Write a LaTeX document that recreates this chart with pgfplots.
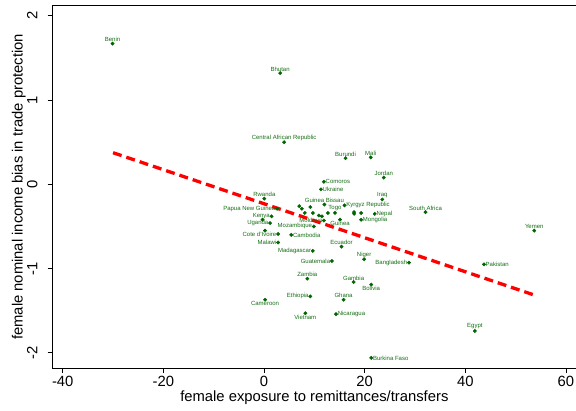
\documentclass[border=0pt]{standalone}
\usepackage{fontspec}
\setmainfont{Liberation Sans}
\usepackage{pgfplots}
\usepackage{pgfplotstable}
\pgfplotsset{compat=1.18}
\definecolor{dkg}{RGB}{0,100,0}
\definecolor{lblg}{RGB}{20,110,20}

% labels above the point
\pgfplotstableread[col sep=comma]{
x,y,label
-30.1,1.67,Benin
3.2,1.32,Bhutan
4.0,0.50,Central African Republic
16.2,0.31,Burundi
21.2,0.32,Mali
23.8,0.08,Jordan
23.5,-0.18,Iraq
0.06,-0.17,Rwanda
15.4,-0.74,Ecuador
19.9,-0.89,Niger
53.7,-0.55,Yemen
32.1,-0.33,South Africa
12.0,-0.24,Guinea Bissau
14.1,-0.34,Togo
8.6,-1.12,Zambia
17.8,-1.16,Gambia
15.8,-1.37,Ghana
41.9,-1.74,Egypt
}\labAbove

% labels left of the point
\pgfplotstableread[col sep=comma]{
x,y,label
2.6,-0.29,Papua New Guinea
1.5,-0.38,Kenya
1.2,-0.46,Uganda
2.8,-0.59,Cote d'Ivoire
2.8,-0.69,Malawi
9.9,-0.50,Mozambique
9.7,-0.79,Madagascar
13.5,-0.91,Guatemala
28.8,-0.93,Bangladesh
11.9,-0.43,Moldova
9.2,-1.33,Ethiopia
}\labLeft

% labels right of the point
\pgfplotstableread[col sep=comma]{
x,y,label
11.9,0.03,Comoros
11.3,-0.06,Ukraine
5.4,-0.60,Cambodia
43.7,-0.95,Pakistan
16.0,-0.25,Kyrgyz Republic
22.0,-0.35,Nepal
19.3,-0.42,Mongolia
14.3,-1.54,Nicaragua
21.3,-2.06,Burkina Faso
}\labRight

% labels below the point
\pgfplotstableread[col sep=comma]{
x,y,label
15.1,-0.42,Guinea
21.3,-1.19,Bolivia
0.2,-1.37,Cameroon
8.2,-1.53,Vietnam
}\labBelow

\pgfplotstableread[col sep=comma]{
x,y
7.0,-0.26
7.5,-0.29
9.2,-0.27
8.1,-0.34
9.7,-0.34
10.9,-0.37
11.5,-0.38
12.7,-0.34
17.9,-0.33
17.9,-0.35
19.3,-0.34
-0.3,-0.42
0.2,-0.55
}\unlabeled

\pgfplotstableread{
x y
-30 0.375
53.5 -1.31
}\fitline

\pgfplotsset{
  lblpts/.style={only marks, mark=*, mark size=1.7pt, color=dkg,
    point meta=explicit symbolic, nodes near coords,
    every node near coord/.append style={anchor=#1, font=\fontsize{6}{7}\selectfont, text=lblg, inner sep=1.6pt}},
}

\begin{document}
\begin{tikzpicture}
\begin{axis}[
  scale only axis,
  width=523.3pt, height=362.3pt,
  xmin=-42, xmax=62, ymin=-2.18, ymax=2.12,
  xtick={-40,-20,0,20,40,60},
  ytick={-2,-1,0,1,2},
  tick pos=left,
  tick align=outside,
  major tick length=5pt,
  axis line style={line width=0.8pt},
  every tick/.style={black, line width=0.8pt},
  /pgf/number format/assume math mode=true,
  ticklabel style={font=\fontsize{14.8}{16}\selectfont},
  xticklabel style={anchor=north, inner sep=0pt},
  xticklabel shift=3pt,
  yticklabel style={rotate=90, anchor=south, inner sep=0pt},
  yticklabel shift=10pt,
  label style={font=\fontsize{14.8}{16}\selectfont},
  xlabel={female exposure to remittances/transfers},
  ylabel={female nominal income bias in trade protection},
  xlabel style={at={([yshift=-30pt]axis description cs:0.5,0)}, anchor=center, inner sep=0pt},
  ylabel style={at={([xshift=-34pt]axis description cs:0,0.5)}, anchor=center, inner sep=0pt},
  clip=false,
]
\addplot[lblpts=south] table[x=x, y=y, meta=label] {\labAbove};
\addplot[lblpts=east] table[x=x, y=y, meta=label] {\labLeft};
\addplot[lblpts=west] table[x=x, y=y, meta=label] {\labRight};
\addplot[lblpts=north] table[x=x, y=y, meta=label] {\labBelow};
\addplot[only marks, mark=*, mark size=1.7pt, color=dkg] table[x=x, y=y] {\unlabeled};
\addplot[red, line width=3.3pt, dash pattern=on 9pt off 5pt] table[x=x, y=y] {\fitline};
\end{axis}
\pgfresetboundingbox
\path (current axis.south west) ++(-52.7pt,-43pt) coordinate (bbA);
\path (current axis.north east) ++(0pt,5.7pt) coordinate (bbB);
\path[use as bounding box] (bbA) rectangle (bbB);
\end{tikzpicture}
\end{document}
